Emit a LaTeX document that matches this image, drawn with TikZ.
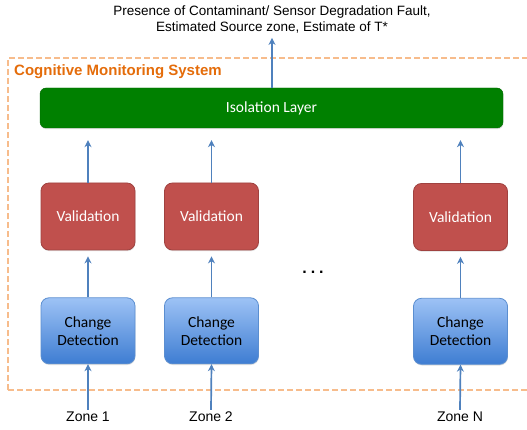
\documentclass[tikz,border=0pt]{standalone}
\usepackage{fontspec}
\setmainfont{Liberation Sans}
\newfontfamily\boxfont{Carlito}
\usetikzlibrary{positioning,arrows.meta,shadows}

\definecolor{linkblue}{HTML}{4F81BD}
\definecolor{cmsorange}{HTML}{E46C0A}
\definecolor{frameorange}{HTML}{F7BC8C}
\definecolor{valred}{HTML}{C0504D}
\definecolor{valedge}{HTML}{A04240}
\definecolor{cdtop}{HTML}{9DC2F5}
\definecolor{cdbottom}{HTML}{3E7DD2}
\definecolor{cdedge}{HTML}{5B8ED0}
\definecolor{isogreen}{HTML}{008000}

\begin{document}
\begin{tikzpicture}[
      x=1pt, y=-1pt,
      node distance=47pt,
      softshadow/.style={drop shadow={opacity=0.25, shadow xshift=0.4pt, shadow yshift=-1.2pt}},
      valbox/.style={draw=valedge, fill=valred, rounded corners=8pt, softshadow, line width=0.8pt,
        minimum width=94pt, minimum height=67pt, text=white, align=center,
        font=\boxfont\fontsize{15.5}{18}\selectfont},
      cdbox/.style={draw=cdedge, top color=cdtop, bottom color=cdbottom, rounded corners=8pt, softshadow,
        line width=0.8pt, minimum width=94pt, minimum height=66pt, text=black, align=center,
        font=\boxfont\fontsize{15.5}{18}\selectfont},
      layerbox/.style={draw=isogreen!80!black, fill=isogreen, rounded corners=6pt, softshadow,
        minimum width=463pt, minimum height=40pt, text=white, font=\boxfont\fontsize{15.5}{18}\selectfont},
      zonelabel/.style={font=\fontsize{14}{16}\selectfont, inner sep=2pt},
      arrow/.style={-{Stealth[length=7pt, width=7pt]}, line width=1.7pt, linkblue}
    ]
      \useasboundingbox (0,0) rectangle (527,430);

      % dashed frame of the monitoring system (right side runs past the page)
      \draw[frameorange, line width=2.2pt, dash pattern=on 6pt off 3pt] (8,390) -- (8,58) -- (540,58);
      \draw[frameorange, line width=2.2pt, dash pattern=on 6pt off 3pt] (8,390) -- (540,390);
      \node[anchor=west, text=cmsorange, font=\bfseries\fontsize{15}{18}\selectfont, inner sep=0pt] (cms) at (14,72) {Cognitive Monitoring System};

      \node[align=center, font=\fontsize{13.5}{16}\selectfont, inner sep=2pt] (result) at (272,19)
        {Presence of Contaminant/ Sensor Degradation Fault,\\Estimated Source zone, Estimate of T*};

      \node[layerbox] (iso) at (271.5,108) {Isolation Layer};

      \node[valbox] (val1) at (88,216.5) {Validation};
      \node[valbox] (val2) at (211.5,216.5) {Validation};
      \node[valbox] (valN) at (460.5,217) {Validation};

      \node[cdbox, below=47pt of val1] (cd1) {Change\\Detection};
      \node[cdbox, below=47pt of val2] (cd2) {Change\\Detection};
      \node[cdbox, below=47pt of valN] (cdN) {Change\\Detection};

      \node[font=\bfseries\fontsize{16}{18}\selectfont] (dots) at (313,272) {.\hspace{4pt}.\hspace{4pt}.};

      \node[zonelabel] (zone1) at (88,417) {Zone 1};
      \node[zonelabel] (zone2) at (211,417) {Zone 2};
      \node[zonelabel] (zoneN) at (460,417) {Zone N};

      \draw[arrow] (zone1.north) -- (cd1.south);
      \draw[arrow] (zone2.north) -- (cd2.south);
      \draw[arrow] (zoneN.north) -- (cdN.south);
      \draw[arrow, shorten >=6pt] (cd1) -- (val1);
      \draw[arrow, shorten >=6pt] (cd2) -- (val2);
      \draw[arrow, shorten >=6pt] (cdN) -- (valN);
      \draw[arrow, shorten >=12pt] (val1.north) -- (val1.north |- iso.south);
      \draw[arrow, shorten >=12pt] (val2.north) -- (val2.north |- iso.south);
      \draw[arrow, shorten >=12pt] (valN.north) -- (valN.north |- iso.south);
      \draw[arrow, shorten >=3pt] (iso.north -| result.south) -- (result.south);
    \end{tikzpicture}
\end{document}
